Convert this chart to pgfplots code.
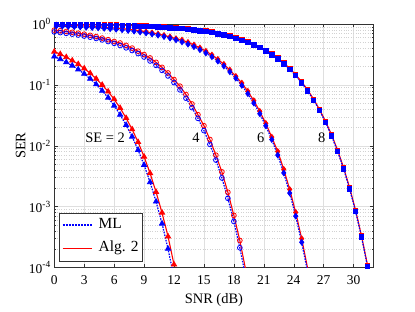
\documentclass[border=0pt]{standalone}
\usepackage{pgfplots}
\pgfplotsset{compat=1.18}
\usepackage{fontspec}
\setmainfont{Liberation Serif}
\definecolor{axgray}{gray}{0.2}
\definecolor{mlblue}{rgb}{0,0,1}
\definecolor{algred}{rgb}{1,0,0}
\pgfplotsset{
  mlstyle/.style={color=mlblue, line width=1.2pt, dash pattern=on 1.6pt off 1.2pt, mark options={solid, line width=0.8pt}},
  algstyle/.style={color=algred, line width=1.1pt, solid, mark options={solid, line width=0.8pt}},
}
\begin{document}
\begin{tikzpicture}
\begin{axis}[
  name=ax, scale only axis, width=319.2bp, height=243.5bp,
  xmin=0, xmax=32, ymode=log, ymin=1e-4, ymax=1,
  xtick={0,3,6,9,12,15,18,21,24,27,30},
  xticklabels={0,3,6,9,12,15,18,21,24,27,30},
  ytick={1e-4,1e-3,1e-2,1e-1,1},
  yticklabels={10\textsuperscript{-4},10\textsuperscript{-3},10\textsuperscript{-2},10\textsuperscript{-1},10\textsuperscript{0}},
  minor ytick={2e-4,3e-4,4e-4,5e-4,6e-4,7e-4,8e-4,9e-4,2e-3,3e-3,4e-3,5e-3,6e-3,7e-3,8e-3,9e-3,2e-2,3e-2,4e-2,5e-2,6e-2,7e-2,8e-2,9e-2,0.2,0.3,0.4,0.5,0.6,0.7,0.8,0.9},
  xmajorgrids, ymajorgrids, yminorgrids,
  major grid style={gray!25, line width=0.4pt},
  minor grid style={gray!35, dotted, line width=0.4pt},
  tick align=inside,
  major tick length=3.5bp, minor tick length=2bp,
  every tick/.style={axgray, line width=0.4pt},
  axis line style={axgray, line width=0.5pt},
  tick label style={font=\fontsize{13.5}{15}\selectfont},
  xticklabel style={yshift=-4.5bp},
  label style={font=\fontsize{14.5}{16}\selectfont},
  xlabel={SNR (dB)}, ylabel={SER},
  xlabel style={at={(axis description cs:0.5,-0.135)}, anchor=center},
  ylabel style={at={(axis description cs:-0.105,0.5)}, anchor=center},
  legend style={at={(axis description cs:0.016,0.026)}, anchor=south west, draw=axgray, line width=0.5pt, fill=white, inner xsep=2bp, inner ysep=3bp, row sep=4bp, nodes={inner sep=2bp, text height=11bp, text depth=4bp, font=\fontsize{15.5}{17}\selectfont}},
  legend cell align=left,
]
\addlegendimage{legend image code/.code={\draw[mlblue, line width=2pt, dash pattern=on 2pt off 1.1pt] (0bp,0bp) -- (29bp,0bp);}}
\addlegendentry{\hspace{4bp}ML\hspace{6bp}}
\addlegendimage{legend image code/.code={\draw[algred, line width=1.3pt, solid] (0bp,0bp) -- (29bp,0bp);}}
\addlegendentry{\hspace{4bp}Alg. 2\hspace{6bp}}

% ---------- Alg. 2 (red) ----------
\addplot[algstyle, mark=triangle*, mark size=3pt, forget plot] coordinates {
(0,0.351) (0.6,0.320) (1.2,0.285) (1.8,0.251) (2.4,0.219) (3.0,0.186) (3.6,0.155) (4.2,0.126) (4.8,0.100) (5.4,0.0776) (6.0,0.0582) (6.6,0.0417) (7.2,0.0285) (7.8,0.0186) (8.4,0.0115) (9.0,0.00661) (9.6,0.00355) (10.2,0.00174) (10.8,7.94e-4) (11.4,3.24e-4) (12.0,1.12e-4)};
\addplot[algstyle, mark=o, mark size=2.4pt, forget plot] coordinates {
(0,0.793) (0.6,0.775) (1.2,0.754) (1.8,0.731) (2.4,0.706) (3.0,0.680) (3.6,0.651) (4.2,0.621) (4.8,0.587) (5.4,0.552) (6.0,0.516) (6.6,0.487) (7.2,0.445) (7.8,0.402) (8.4,0.358) (9.0,0.315) (9.6,0.277) (10.2,0.2345) (10.8,0.194) (11.4,0.157) (12.0,0.1223) (12.6,0.0951) (13.2,0.0693) (13.8,0.0486) (14.4,0.0324) (15.0,0.02135) (15.6,0.01266) (16.2,0.0070) (16.8,0.003727) (17.4,0.001725) (18.0,7.19e-4) (18.6,2.78e-4) (19.2,8.94e-5)};
\addplot[algstyle, mark=diamond*, mark size=2.8pt, forget plot] coordinates {
(0.2,0.965) (0.8,0.959) (1.4,0.952) (2.0,0.943) (2.6,0.935) (3.2,0.924) (3.8,0.914) (4.4,0.902) (5.0,0.889) (5.6,0.874) (6.2,0.857) (6.8,0.839) (7.4,0.819) (8.0,0.797) (8.6,0.772) (9.2,0.745) (9.8,0.716) (10.4,0.685) (11.0,0.650) (11.6,0.614) (12.2,0.574) (12.8,0.545) (13.4,0.4995) (14.0,0.453) (14.6,0.405) (15.2,0.3575) (15.8,0.310) (16.4,0.263) (17.0,0.218) (17.6,0.1755) (18.2,0.1379) (18.8,0.1072) (19.4,0.0785) (20.0,0.0550) (20.6,0.0368) (21.2,0.0233) (21.8,0.01386) (22.4,0.00806) (23.0,0.00411) (23.6,0.001917) (24.2,8.04e-4) (24.8,2.98e-4) (25.4,9.68e-5)};
\addplot[algstyle, mark=square*, mark size=2.2pt, forget plot] coordinates {
(0.2,0.990) (0.8,0.988) (1.4,0.986) (2.0,0.984) (2.6,0.982) (3.2,0.979) (3.8,0.976) (4.4,0.973) (5.0,0.969) (5.6,0.964) (6.2,0.960) (6.8,0.954) (7.4,0.948) (8.0,0.941) (8.6,0.934) (9.2,0.925) (9.8,0.916) (10.4,0.904) (11.0,0.892) (11.6,0.879) (12.2,0.864) (12.8,0.856) (13.4,0.837) (14.0,0.816) (14.6,0.793) (15.2,0.767) (15.8,0.739) (16.4,0.707) (17.0,0.673) (17.6,0.636) (18.2,0.597) (18.8,0.555) (19.4,0.510) (20.0,0.464) (20.6,0.417) (21.2,0.368) (21.8,0.324) (22.4,0.276) (23.0,0.230) (23.6,0.186) (24.2,0.1467) (24.8,0.1120) (25.4,0.0825) (26.0,0.0582) (26.6,0.0391) (27.2,0.02496) (27.8,0.01513) (28.4,0.00848) (29.0,0.00438) (29.6,0.00206) (30.2,8.77e-4) (30.8,3.31e-4) (31.4,1.09e-4)};

% ---------- ML (blue) ----------
\addplot[mlstyle, mark=triangle*, mark size=3pt, forget plot] coordinates {
(0,0.292) (0.6,0.264) (1.2,0.235) (1.8,0.207) (2.4,0.179) (3.0,0.152) (3.6,0.126) (4.2,0.102) (4.8,0.080) (5.4,0.0616) (6.0,0.0455) (6.6,0.0323) (7.2,0.0219) (7.8,0.0141) (8.4,0.00852) (9.0,0.00483) (9.6,0.00252) (10.2,0.00121) (10.8,5.26e-4) (11.4,2.03e-4) (12.0,6.9e-5)};
\addplot[mlstyle, mark=o, mark size=2.4pt, forget plot] coordinates {
(0,0.740) (0.6,0.7225) (1.2,0.703) (1.8,0.682) (2.4,0.659) (3.0,0.634) (3.6,0.6075) (4.2,0.579) (4.8,0.548) (5.4,0.515) (6.0,0.481) (6.6,0.444) (7.2,0.406) (7.8,0.367) (8.4,0.327) (9.0,0.287) (9.6,0.247) (10.2,0.209) (10.8,0.173) (11.4,0.140) (12.0,0.109) (12.6,0.0828) (13.2,0.0604) (13.8,0.0423) (14.4,0.0282) (15.0,0.01776) (15.6,0.01053) (16.2,0.00582) (16.8,0.00296) (17.4,0.00137) (18.0,5.71e-4) (18.6,2.11e-4) (19.2,6.78e-5)};
\addplot[mlstyle, mark=diamond*, mark size=2.8pt, forget plot] coordinates {
(0.2,0.922) (0.8,0.916) (1.4,0.909) (2.0,0.901) (2.6,0.893) (3.2,0.883) (3.8,0.873) (4.4,0.862) (5.0,0.849) (5.6,0.8345) (6.2,0.819) (6.8,0.801) (7.4,0.782) (8.0,0.761) (8.6,0.737) (9.2,0.712) (9.8,0.684) (10.4,0.654) (11.0,0.621) (11.6,0.586) (12.2,0.548) (12.8,0.508) (13.4,0.466) (14.0,0.4226) (14.6,0.378) (15.2,0.3335) (15.8,0.289) (16.4,0.245) (17.0,0.2034) (17.6,0.1637) (18.2,0.1286) (18.8,0.0978) (19.4,0.0716) (20.0,0.0502) (20.6,0.03357) (21.2,0.02126) (21.8,0.01265) (22.4,0.00702) (23.0,0.00358) (23.6,0.00167) (24.2,7.00e-4) (24.8,2.60e-4) (25.4,8.43e-5)};
\addplot[mlstyle, mark=square*, mark size=2.2pt, forget plot] coordinates {
(0.2,0.979) (0.8,0.977) (1.4,0.975) (2.0,0.973) (2.6,0.971) (3.2,0.968) (3.8,0.965) (4.4,0.9615) (5.0,0.958) (5.6,0.953) (6.2,0.949) (6.8,0.943) (7.4,0.937) (8.0,0.930) (8.6,0.923) (9.2,0.914) (9.8,0.905) (10.4,0.894) (11.0,0.882) (11.6,0.869) (12.2,0.854) (12.8,0.837) (13.4,0.818) (14.0,0.798) (14.6,0.775) (15.2,0.750) (15.8,0.722) (16.4,0.691) (17.0,0.658) (17.6,0.622) (18.2,0.584) (18.8,0.543) (19.4,0.499) (20.0,0.454) (20.6,0.408) (21.2,0.360) (21.8,0.313) (22.4,0.267) (23.0,0.222) (23.6,0.1797) (24.2,0.1417) (24.8,0.1082) (25.4,0.0797) (26.0,0.0562) (26.6,0.0378) (27.2,0.02412) (27.8,0.01445) (28.4,0.00810) (29.0,0.00418) (29.6,0.001968) (30.2,8.38e-4) (30.8,3.16e-4) (31.4,1.04e-4)};

\node[font=\fontsize{14.5}{16}\selectfont] at (axis cs:5.1,0.0134) {SE = 2};
\node[font=\fontsize{14.5}{16}\selectfont] at (axis cs:14.2,0.0134) {4};
\node[font=\fontsize{14.5}{16}\selectfont] at (axis cs:20.7,0.0134) {6};
\node[font=\fontsize{14.5}{16}\selectfont] at (axis cs:26.8,0.0134) {8};
\end{axis}
\path ([shift={(-54.3bp,-44.5bp)}]ax.south west) rectangle ++(415bp,312bp);
\end{tikzpicture}
\end{document}
